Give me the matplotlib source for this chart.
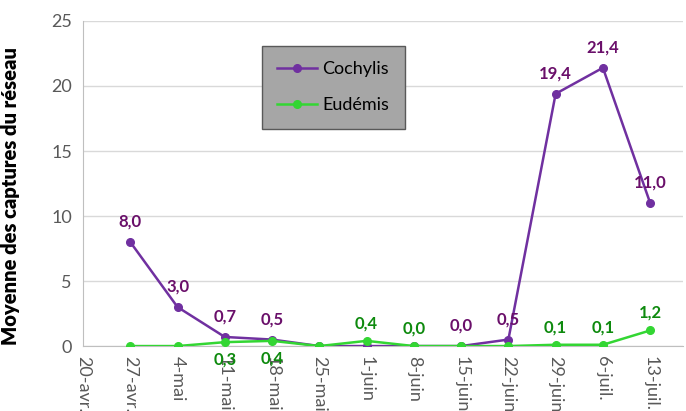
import numpy as np
import matplotlib
matplotlib.use('Agg')
import matplotlib.pyplot as plt

plt.rcParams['font.family'] = ['Lato', 'DejaVu Sans']

dates = ['20-avr.', '27-avr.', '4-mai', '11-mai', '18-mai', '25-mai', '1-juin',
         '8-juin', '15-juin', '22-juin', '29-juin', '6-juil.', '13-juil.']

# values start at 27-avr. (index 1)
cochylis = [8.0, 3.0, 0.7, 0.5, 0.0, 0.0, 0.0, 0.0, 0.5, 19.4, 21.4, 11.0]
eudemis = [0.0, 0.0, 0.3, 0.4, 0.0, 0.4, 0.0, 0.0, 0.0, 0.1, 0.1, 1.2]

# which points carry a label: 1 = above, -1 = below, 0 = none
cochylis_lab = [1, 1, 1, 1, 0, 0, 0, 1, 1, 1, 1, 1]
eudemis_lab = [0, 0, -1, -1, 0, 1, 1, 0, 0, 1, 1, 1]

purple = '#7030A0'
purple_txt = '#6A0F6A'
green = '#33D633'
green_txt = '#0E8A0E'

fig = plt.figure(figsize=(6.86, 4.11), dpi=100)
ax = fig.add_axes([0.121, 0.158, 0.875, 0.791])

x = np.arange(1, len(dates))
ax.plot(x, cochylis, color=purple, lw=1.8, marker='o', ms=5.5, label='Cochylis', zorder=3)
ax.plot(x, eudemis, color=green, lw=1.8, marker='o', ms=5.5, label='Eudémis', zorder=4)


def fmt(v):
  return f"{v:.1f}".replace('.', ',')


for xi, v, pos in zip(x, cochylis, cochylis_lab):
  if pos:
    ax.annotate(fmt(v), (xi, v), xytext=(0, 9 * pos), textcoords='offset points',
                ha='center', va='bottom' if pos > 0 else 'top', color=purple_txt,
                fontsize=12, fontweight='bold', zorder=5)
for xi, v, pos in zip(x, eudemis, eudemis_lab):
  if pos:
    ax.annotate(fmt(v), (xi, v), xytext=(0, 7 * pos), textcoords='offset points',
                ha='center', va='bottom' if pos > 0 else 'top', color=green_txt,
                fontsize=12, fontweight='bold', zorder=5)

ax.set_xlim(0, 12.7)
ax.set_ylim(0, 25)
ax.set_yticks(np.arange(0, 26, 5))
ax.set_xticks(np.arange(len(dates)))
ax.set_xticklabels(dates, rotation=-90, va='top', ha='center')
ax.tick_params(axis='both', colors='#595959', labelsize=13, length=0)
ax.tick_params(axis='x', pad=7)
ax.tick_params(axis='y', pad=8)
ax.grid(axis='y', color='#D9D9D9', lw=1)
ax.set_axisbelow(True)
for s in ['top', 'right']:
  ax.spines[s].set_visible(False)
for s in ['left', 'bottom']:
  ax.spines[s].set_color('#BFBFBF')
ax.set_ylabel('Moyenne des captures du réseau', fontsize=14.5, fontweight='heavy', color='black')
ax.yaxis.set_label_coords(-0.105, 0.46)

leg = ax.legend(loc='upper left', bbox_to_anchor=(262 / 686, 1 - 46 / 411),
                bbox_transform=fig.transFigure, fontsize=13, frameon=True,
                fancybox=False, borderpad=0.85, labelspacing=1.1, handlelength=2.2,
                handletextpad=0.3, borderaxespad=0)
leg.get_frame().set_facecolor('#A6A6A6')
leg.get_frame().set_edgecolor('#595959')
leg.get_frame().set_alpha(1)

plt.savefig('out.png', dpi=100)
